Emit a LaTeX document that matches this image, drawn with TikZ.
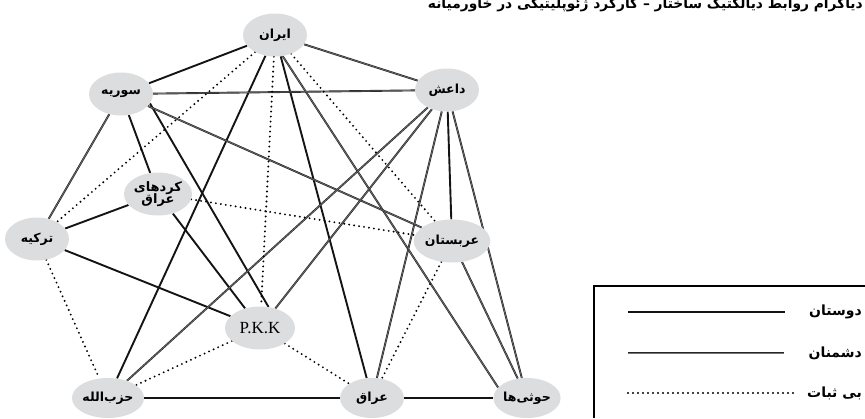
\documentclass[tikz,border=0pt]{standalone}
\usepackage{fontspec}
\setmainfont{Liberation Serif}
\newfontfamily\fa[Script=Arabic]{DejaVu Sans}
\TeXXeTstate=1
\usetikzlibrary{shapes.geometric}
\pgfdeclarelayer{bg}
\pgfsetlayers{bg,main}
\definecolor{nodegray}{RGB}{220,221,223}
\begin{document}
\begin{tikzpicture}[x=1pt,y=-1pt,
  country/.style={ellipse, fill=nodegray, inner sep=0pt, minimum width=64pt,
    minimum height=43pt, font=\fa\bfseries\fontsize{12.5}{14}\selectfont, align=center},
  friend/.style={line width=1.9pt, draw=black!92},
  enemy/.style={draw=black!85, double=black!55, line width=0.65pt, double distance=0.6pt},
  unstable/.style={line width=2.1pt, dash pattern=on 0pt off 5pt, line cap=round},
  lgtext/.style={anchor=east, font=\fa\bfseries\fontsize{14}{16}\selectfont, inner sep=0pt}]
\useasboundingbox (0,0) rectangle (865,418);

% title (cut at the top edge as in the reference)
\node[anchor=base east, inner sep=0pt, font=\fa\bfseries\fontsize{13.8}{15}\selectfont] (title) at (863,8)
  {\beginR دیاگرام روابط دیالکتیک ساختار – کارکرد ژئوپلیتیکی در خاورمیانه\endR};

% nodes
\node[country] (iran) at (275,35) {ایران};
\node[country] (syr)  at (121,94) {سوریه};
\node[country] (dae)  at (447,90) {داعش};
\node[country, font=\fa\bfseries\fontsize{13}{13.5}\selectfont] (kur) at (158,194) {کردهای\\[-1pt]عراق};
\node[country] (tur)  at (37,239) {ترکیه};
\node[country, minimum width=68pt] (arb) at (452,241) {عربستان};
\node[country, minimum width=70pt, font=\fontsize{17}{19}\selectfont] (pkk) at (260,328) {P.K.K};
\node[country, minimum height=40pt] (hez) at (108,398) {حزب^^^^200cالله};
\node[country, minimum height=40pt] (irq) at (372,398) {عراق};
\node[country, minimum height=40pt] (hou) at (527,398) {حوثی^^^^200cها};

\begin{pgfonlayer}{bg}
% friends
\draw[friend] (iran) -- (syr);
\draw[friend] (iran) -- (hez);
\draw[friend] (iran) -- (irq);
\draw[friend] (syr) -- (kur);
\draw[friend] (syr.-18) -- (pkk.68);
\draw[friend] (kur) -- (pkk);
\draw[friend] (kur) -- (tur);
\draw[friend] (tur) -- (pkk);
\draw[friend] (dae) -- (arb);
\draw[friend] (hez) -- (irq);
\draw[friend] (irq) -- (hou);
% enemies
\draw[enemy] (iran) -- (dae);
\draw[enemy] (iran.-70) -- (hou.160);
\draw[enemy] (syr) -- (dae);
\draw[enemy] (syr) -- (tur);
\draw[enemy] (syr) -- (arb);
\draw[enemy] (dae) -- (hez);
\draw[enemy] (dae) -- (pkk);
\draw[enemy] (dae) -- (irq);
\draw[enemy] (dae) -- (hou);
\draw[enemy] (arb) -- (hou);
% unstable
\draw[unstable] (iran) -- (tur);
\draw[unstable] (iran) -- (pkk);
\draw[unstable] (iran) -- (arb);
\draw[unstable] (tur) -- (hez);
\draw[unstable] (kur) -- (arb);
\draw[unstable] (pkk) -- (hez);
\draw[unstable] (pkk) -- (irq);
\draw[unstable] (arb) -- (irq);
\end{pgfonlayer}

% legend
\draw[line width=2pt] (594,418) -- (594,286) -- (865,286);
\coordinate (l1a) at (628,312); \coordinate (l1b) at (785,312);
\coordinate (l2a) at (628,353); \coordinate (l2b) at (784,353);
\coordinate (l3a) at (628,393); \coordinate (l3b) at (793,393);
\draw[friend] (l1a) -- (l1b);
\draw[enemy] (l2a) -- (l2b);
\draw[unstable] (l3a) -- (l3b);
\node[lgtext] (t1) at (862,312) {دوستان};
\node[lgtext] (t2) at (862,353) {دشمنان};
\node[lgtext] (t3) at (862,393) {\beginR بی ثبات\endR};
\end{tikzpicture}
\end{document}
